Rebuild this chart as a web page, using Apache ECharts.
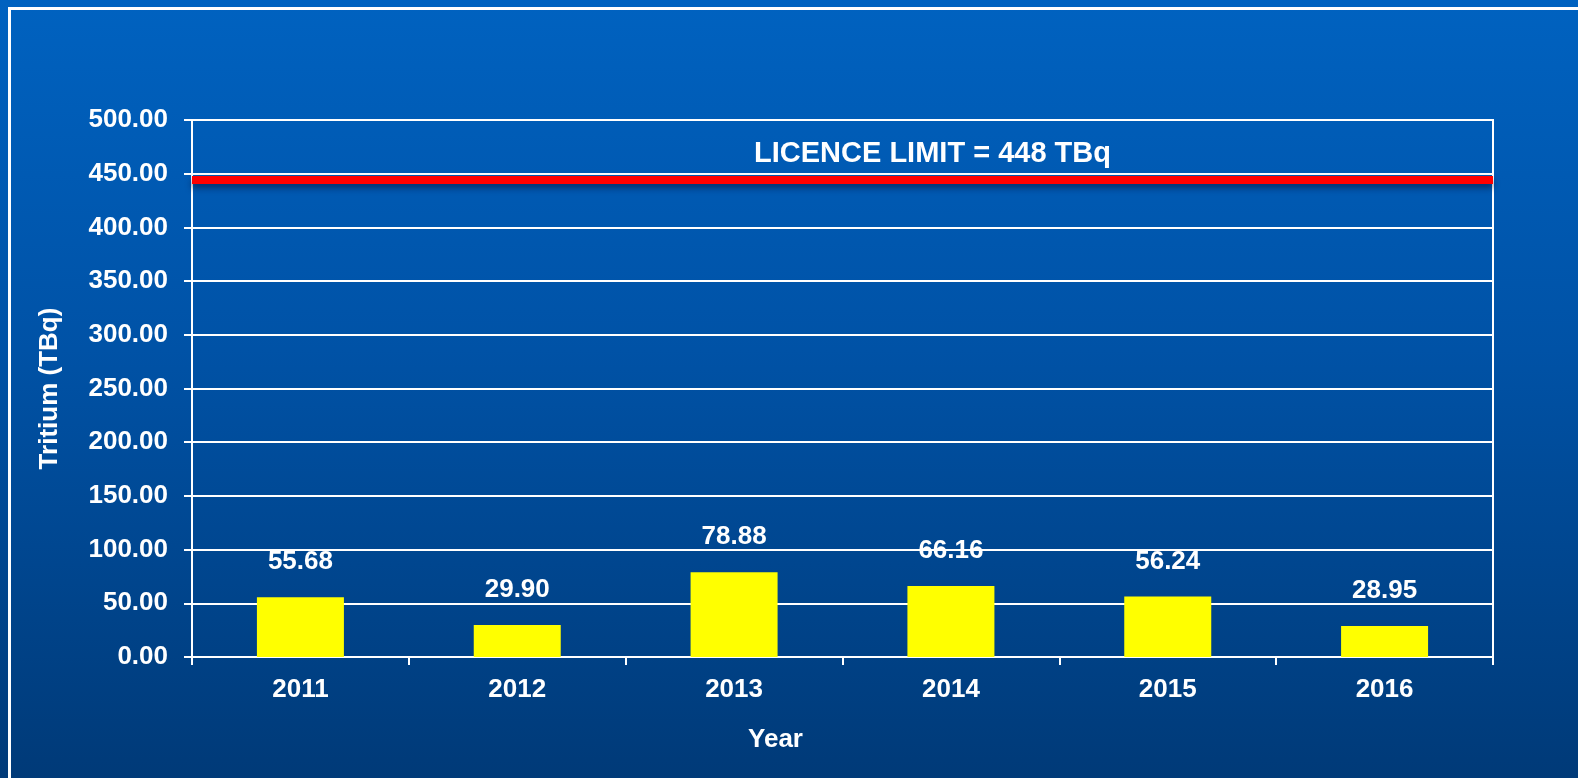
<!DOCTYPE html>
<html>
<head>
<meta charset="utf-8">
<script src="https://cdn.jsdelivr.net/npm/echarts@6/dist/echarts.min.js"></script>
<style>
  html, body {
    margin: 0;
    padding: 0;
    width: 1578px;
    height: 778px;
    overflow: hidden;
    background: linear-gradient(to bottom, #0062c0 0%, #0052a6 45%, #003a78 100%);
  }
  .frame {
    position: absolute;
    left: 8px;
    top: 7px;
    width: 1600px;
    height: 800px;
    border-top: 3px solid #ffffff;
    border-left: 3px solid #ffffff;
  }
  #chart {
    position: absolute;
    left: 0;
    top: 0;
    width: 1578px;
    height: 778px;
  }
</style>
</head>
<body>
<div class="frame"></div>
<div id="chart"></div>
<script>
// data
const years = ["2011", "2012", "2013", "2014", "2015", "2016"];
const tritium = [55.68, 29.90, 78.88, 66.16, 56.24, 28.95];
const limitValue = 444;
const limitText = "LICENCE LIMIT = 448 TBq";

const font = '"Liberation Sans", Arial, sans-serif';

const chart = echarts.init(document.getElementById("chart"));

chart.setOption({
  backgroundColor: "transparent",
  textStyle: { fontFamily: font },
  animation: false,
  grid: {
    left: 192,
    right: 85,
    top: 120,
    bottom: 121,
    show: true,
    borderColor: "#ffffff",
    borderWidth: 2,
    backgroundColor: "transparent"
  },
  xAxis: {
    type: "category",
    data: years,
    name: "Year",
    nameLocation: "middle",
    nameGap: 70,
    nameTextStyle: {
      color: "#ffffff",
      fontSize: 26,
      fontWeight: "bold",
      fontFamily: font,
      padding: [0, 134, 0, 0]
    },
    axisLine: { lineStyle: { color: "#ffffff", width: 2 } },
    axisTick: { show: true, length: 8, lineStyle: { color: "#ffffff", width: 2 } },
    axisLabel: { color: "#ffffff", fontSize: 26, fontWeight: "bold", fontFamily: font, margin: 20 }
  },
  yAxis: {
    type: "value",
    min: 0,
    max: 500,
    interval: 50,
    name: "Tritium (TBq)",
    nameLocation: "middle",
    nameRotate: 90,
    nameGap: 129,
    nameTextStyle: { color: "#ffffff", fontSize: 26, fontWeight: "bold", fontFamily: font },
    axisLine: { show: true, lineStyle: { color: "#ffffff", width: 2 } },
    axisTick: { show: true, length: 8, lineStyle: { color: "#ffffff", width: 2 } },
    splitLine: { lineStyle: { color: "#ffffff", width: 2 } },
    axisLabel: {
      color: "#ffffff",
      fontSize: 26,
      fontWeight: "bold",
      fontFamily: font,
      margin: 24,
      formatter: v => v.toFixed(2)
    }
  },
  series: [
    {
      type: "bar",
      data: tritium,
      barWidth: 87,
      itemStyle: { color: "#ffff00" },
      label: {
        show: true,
        position: "top",
        distance: 22,
        color: "#ffffff",
        fontSize: 26,
        fontWeight: "bold",
        fontFamily: font,
        formatter: p => p.value.toFixed(2)
      },
      markLine: {
        silent: true,
        symbol: "none",
        data: [{ yAxis: limitValue }],
        lineStyle: {
          color: "#ff0000",
          width: 8,
          type: "solid",
          shadowColor: "rgba(0, 20, 60, 0.6)",
          shadowBlur: 6,
          shadowOffsetY: 4
        },
        label: {
          show: true,
          position: "middle",
          distance: 12,
          padding: [0, 0, 0, 180],
          color: "#ffffff",
          fontSize: 29,
          fontWeight: "bold",
          fontFamily: font,
          formatter: limitText
        }
      }
    }
  ]
});
</script>
</body>
</html>
